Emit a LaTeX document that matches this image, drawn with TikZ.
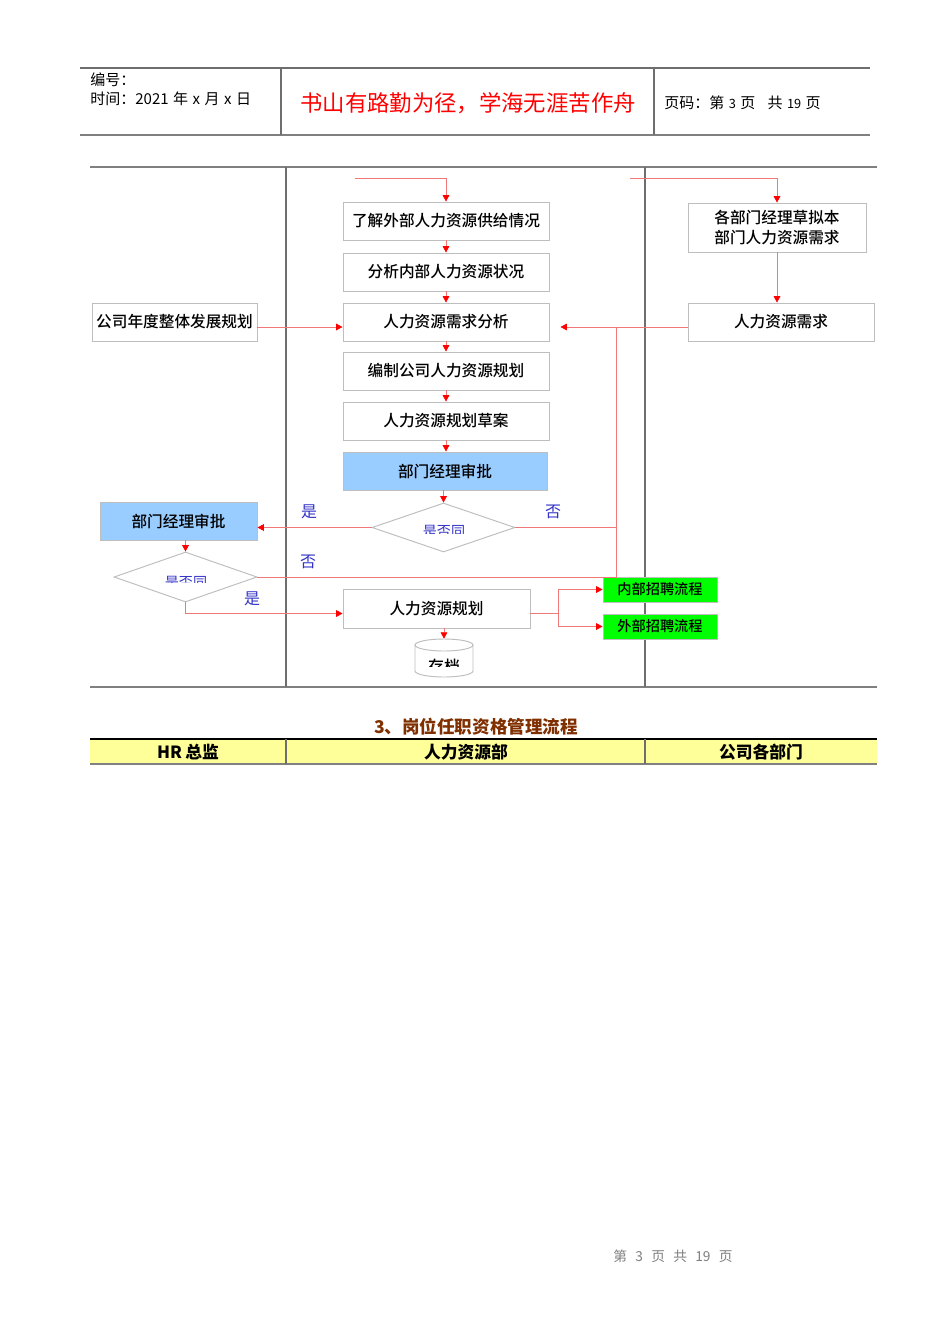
\documentclass[tikz,border=0pt]{standalone}
\usepackage{fontspec}
\setmainfont{Noto Sans CJK SC}
\newfontfamily\cjkm{Noto Sans CJK SC Medium}
\usetikzlibrary{arrows.meta,shapes.geometric}
\newcommand\pxu{0.626pt}
\definecolor{boxgray}{RGB}{190,190,190}
\definecolor{lnred}{RGB}{240,120,120}
\definecolor{bluefill}{RGB}{153,204,255}
\definecolor{greenfill}{RGB}{0,255,0}
\definecolor{yellowfill}{RGB}{255,255,153}
\definecolor{titlebrown}{RGB}{128,48,0}
\definecolor{lblblue}{RGB}{50,50,200}
\definecolor{rulegray}{RGB}{110,110,110}
\begin{document}
\begin{tikzpicture}[x=0.626pt,y=-0.626pt,
  box/.style={draw=boxgray, line width=0.6pt, fill=white, inner sep=1pt, align=center},
  btxt/.style={font=\cjkm\fontsize{9.8}{12}\selectfont},
  gtxt/.style={font=\cjkm\fontsize{8.9}{10}\selectfont},
  flow/.style={draw=lnred, line width=0.45pt, -{Triangle[length=4pt,width=4.2pt,color=red]}},
  seg/.style={draw=lnred, line width=0.45pt},
  lbl/.style={font=\fontsize{10}{11}\selectfont, text=lblblue, inner sep=0pt},
  dtxt/.style={font=\fontsize{8.8}{10}\selectfont, text=lblblue, inner sep=0pt},
  dia/.style={diamond, draw=boxgray, line width=0.6pt, inner sep=0pt},
  hdr/.style={font=\fontsize{9.4}{11}\selectfont, inner sep=0pt, anchor=west},
  colhead/.style={font=\bfseries\fontsize{10.5}{12}\selectfont, inner sep=0pt},
]
\useasboundingbox (0,0) rectangle (950,1344);
\fill[white] (0,0) rectangle (950,1344);

% ---------- header ----------
\draw[rulegray, line width=0.7pt] (80,68) -- (870,68);
\draw[gray, line width=1.3pt] (80,135) -- (870,135);
\draw[rulegray, line width=0.7pt] (281,68) -- (281,135);
\draw[rulegray, line width=0.7pt] (654,68) -- (654,135);
\node[hdr] (h1) at (90,80) {编号：};
\node[hdr] (h2) at (90,99) {时间：2021\hspace{0.3em}年\hspace{0.3em}x\hspace{0.3em}月\hspace{0.3em}x\hspace{0.3em}日};
\node[font=\fontsize{14}{16}\selectfont, text=red, inner sep=0pt] (h3) at (468,103) {书山有路勤为径，学海无涯苦作舟};
\node[hdr] (h4) at (664,103) {页码：第\hspace{0.3em}{\fontsize{8}{9}\selectfont 3}\hspace{0.3em}页\hspace{0.8em}共\hspace{0.3em}{\fontsize{8}{9}\selectfont 19}\hspace{0.3em}页};

% ---------- frame ----------
\draw[gray, line width=1pt] (90,167) -- (877,167);
\draw[gray, line width=1pt] (90,687) -- (877,687);
\draw[rulegray, line width=0.7pt] (286,167) -- (286,687);
\draw[rulegray, line width=0.7pt] (645,167) -- (645,687);

% ---------- nodes ----------
\node[box,btxt,minimum width=206*\pxu,minimum height=38*\pxu] (n1) at (446,221) {了解外部人力资源供给情况};
\node[box,btxt,minimum width=206*\pxu,minimum height=38*\pxu] (n2) at (446,272) {分析内部人力资源状况};
\node[box,btxt,minimum width=206*\pxu,minimum height=38*\pxu] (n3) at (446,322) {人力资源需求分析};
\node[box,btxt,minimum width=206*\pxu,minimum height=38*\pxu] (n4) at (446,371) {编制公司人力资源规划};
\node[box,btxt,minimum width=206*\pxu,minimum height=38*\pxu] (n5) at (446,421) {人力资源规划草案};
\node[box,btxt,fill=bluefill,minimum width=204*\pxu,minimum height=38*\pxu] (n6) at (445,471) {部门经理审批};
\node[dia,minimum width=143*\pxu,minimum height=49*\pxu] (d1) at (443.5,527.5) {};

\node[box,btxt,minimum width=165*\pxu,minimum height=38*\pxu] (L1) at (174.5,322) {公司年度整体发展规划};
\node[box,btxt,minimum width=178*\pxu,minimum height=49*\pxu] (r1) at (777,227.5) {各部门经理草拟本\\部门人力资源需求};
\node[box,btxt,minimum width=186*\pxu,minimum height=38*\pxu] (r2) at (781,322) {人力资源需求};

\node[box,btxt,fill=bluefill,minimum width=157*\pxu,minimum height=38*\pxu] (LB) at (178.5,521) {部门经理审批};
\node[dia,minimum width=143*\pxu,minimum height=50*\pxu] (d2) at (185.5,577) {};

\node[box,btxt,minimum width=187*\pxu,minimum height=39*\pxu] (P) at (436.5,608.5) {人力资源规划};
\node[box,gtxt,fill=greenfill,minimum width=114*\pxu,minimum height=25*\pxu] (G1) at (660,589.5) {内部招聘流程};
\node[box,gtxt,fill=greenfill,minimum width=114*\pxu,minimum height=25*\pxu] (G2) at (660,626.5) {外部招聘流程};

% cylinder (archive)
\node[minimum width=58*\pxu,minimum height=38*\pxu,inner sep=0pt] (cyl) at (444,658) {};
\draw[boxgray, line width=0.6pt, fill=white] (415,645) -- (415,671)
   arc[start angle=180, end angle=360, x radius=29*\pxu, y radius=6*\pxu] -- (473,645);
\draw[boxgray, line width=0.6pt] (444,645) ellipse [x radius=29*\pxu, y radius=6*\pxu];
\begin{scope}
  \clip (410,650) rectangle (478,666);
  \node[font=\cjkm\fontsize{10}{11}\selectfont, inner sep=0pt] (ct) at (444,666) {存档};
\end{scope}

% diamond texts (clipped as in the original)
\begin{scope}
  \clip (390,510) rectangle (500,533.5);
  \node[dtxt] (t1) at (444,531) {是否同};
\end{scope}
\begin{scope}
  \clip (130,560) rectangle (240,582.5);
  \node[dtxt] (t2) at (186,582) {是否同};
\end{scope}

% ---------- connectors ----------
\coordinate (s1) at (355,178);
\coordinate (s2) at (630,178);
\coordinate (j1) at (616,327);
\coordinate (j2) at (616,577);
\coordinate (j3) at (558,613);

\draw[flow] (s1) -| (n1.north);
\draw[flow] (s2) -| (r1.north);
\draw[flow] (n1) -- (n2);
\draw[flow] (n2) -- (n3);
\draw[flow] (n3) -- (n4);
\draw[flow] (n4) -- (n5);
\draw[flow] (n5.south) -- (n5.south |- n6.north);
\draw[flow] (d1.north |- n6.south) -- (d1.north);
\draw[flow] (r1) -- (r1 |- r2.north);
\draw[seg] ([yshift=-5*\pxu]r2.west) -- (j1);
\draw[flow] (j1) -- ([xshift=11*\pxu,yshift=-5*\pxu]n3.east);
\draw[flow] ([yshift=-5*\pxu]L1.east) -- ([yshift=-5*\pxu]n3.west);
\draw[seg] (d1.east) -- (d1.east -| j1);
\draw[seg] (d2.east) -- (j2) -- (j1);
\draw[flow] (d1.west) -- (d1.west -| LB.east);
\draw[flow] (d2.north |- LB.south) -- (d2.north);
\draw[flow] (d2.south) |- ([yshift=-5*\pxu]P.west);
\draw[seg] ([yshift=-4.5*\pxu]P.east) -- (j3);
\draw[flow] (j3) |- (G1.west);
\draw[flow] (j3) |- (G2.west);
\draw[flow] (cyl.north |- P.south) -- (cyl.north);

% labels
\node[lbl] (y1) at (309,512) {是};
\node[lbl] (n1l) at (553,512) {否};
\node[lbl] (n2l) at (308,562) {否};
\node[lbl] (y2) at (252,599) {是};

% ---------- section 3 ----------
\node[font=\bfseries\fontsize{11}{13}\selectfont, text=titlebrown, inner sep=0pt] (sec) at (476,727) {3、岗位任职资格管理流程};
\fill[yellowfill] (90,739) rectangle (877,764);
\draw[black, line width=0.8pt] (90,739) -- (877,739);
\draw[gray, line width=1.3pt] (90,764) -- (877,764);
\draw[rulegray, line width=0.7pt] (286,739) -- (286,764);
\draw[rulegray, line width=0.7pt] (645,739) -- (645,764);
\node[colhead] (c1) at (188,752) {HR\hspace{0.2em}总监};
\node[colhead] (c2) at (466,752) {人力资源部};
\node[colhead] (c3) at (761,752) {公司各部门};

% footer
\node[font=\fontsize{8.6}{10}\selectfont, text=gray, inner sep=0pt] (foot) at (673,1256) {第\hspace{0.6em}3\hspace{0.6em}页\hspace{0.6em}共\hspace{0.6em}19\hspace{0.6em}页};
\end{tikzpicture}
\end{document}
